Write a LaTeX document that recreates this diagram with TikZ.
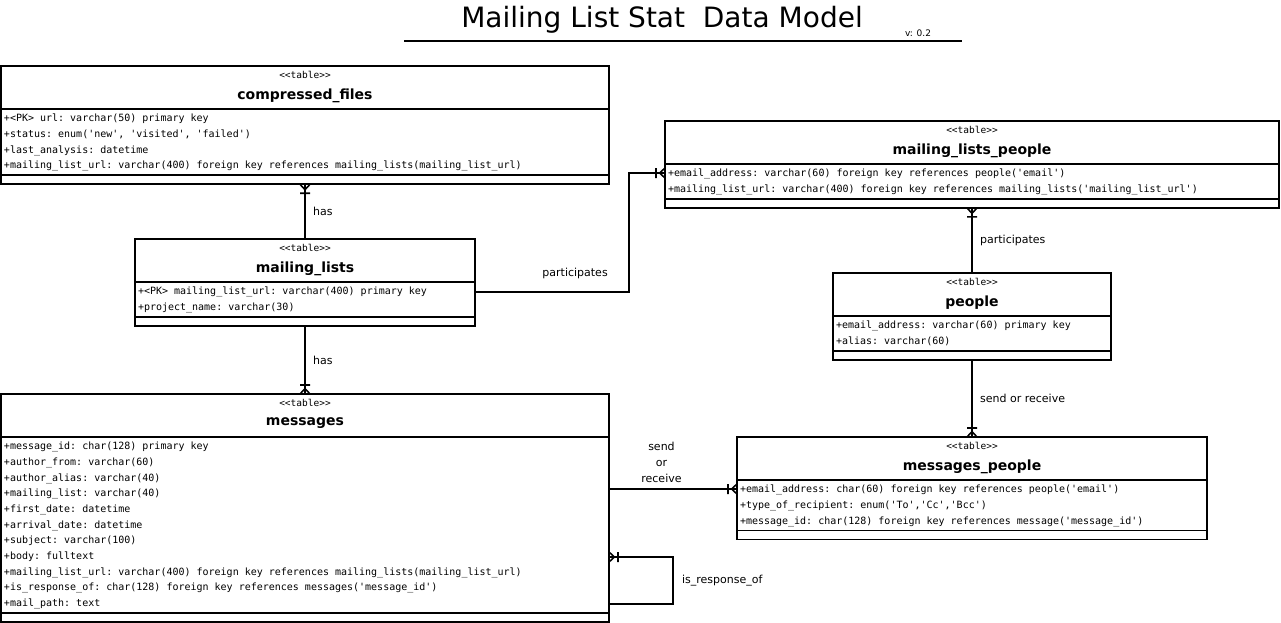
\documentclass[tikz,border=0pt]{standalone}
\usepackage{fontspec}
\setmainfont{DejaVu Sans}
\setmonofont{DejaVu Sans Mono}
\usetikzlibrary{positioning}
\usetikzlibrary{fit}
\usetikzlibrary{arrows.meta}

% crow's foot with bar (one or many)
\pgfdeclarearrow{
  name = crowfoot,
  parameters = {\the\pgfarrowlength,\the\pgfarrowwidth,\the\pgflinewidth},
  setup code = {
    \pgfarrowssettipend{0pt}
    \pgfarrowssetlineend{0pt}
    \pgfarrowssetbackend{-\pgfarrowlength}
    \pgfarrowssetvisualbackend{-\pgfarrowlength}
    \pgfarrowshullpoint{0pt}{0.5\pgfarrowwidth}
    \pgfarrowshullpoint{0pt}{-0.5\pgfarrowwidth}
    \pgfarrowshullpoint{-\pgfarrowlength}{0.5\pgfarrowwidth}
    \pgfarrowshullpoint{-\pgfarrowlength}{-0.5\pgfarrowwidth}
    \pgfarrowssavethe\pgfarrowlength
    \pgfarrowssavethe\pgfarrowwidth
  },
  drawing code = {
    \pgfsetdash{}{0pt}
    \pgfpathmoveto{\pgfqpoint{0pt}{0.5\pgfarrowwidth}}
    \pgfpathlineto{\pgfqpoint{-0.6\pgfarrowlength}{0pt}}
    \pgfpathlineto{\pgfqpoint{0pt}{-0.5\pgfarrowwidth}}
    \pgfpathmoveto{\pgfqpoint{-\pgfarrowlength}{0.5\pgfarrowwidth}}
    \pgfpathlineto{\pgfqpoint{-\pgfarrowlength}{-0.5\pgfarrowwidth}}
    \pgfusepathqstroke
  },
  defaults = {length = 9pt, width = 10pt}
}

% full-width spaces in the mono attribute lines
\newcommand{\monospaces}{\spaceskip=6.02pt\relax\xspaceskip=6.02pt\relax}

\tikzset{
  tblhead/.style = {draw, line width=1.6pt, outer sep=0pt, inner sep=0pt, minimum height=43pt, anchor=north west},
  tblattr/.style = {draw, line width=1.6pt, outer sep=0pt, inner xsep=3pt, inner ysep=1.8pt, align=left,
                    font=\ttfamily\fontsize{10}{15.67}\selectfont,
                    execute at begin node={\monospaces\strut}, execute at end node=\strut},
  tblfoot/.style = {draw, line width=1.6pt, outer sep=0pt, inner sep=0pt, minimum height=9pt},
  stereo/.style = {font=\ttfamily\fontsize{9.5}{11}\selectfont, inner sep=0pt},
  tblname/.style = {font=\bfseries\fontsize{14}{16}\selectfont, inner sep=0pt},
  lbl/.style = {font=\fontsize{11}{16}\selectfont},
  rel/.style = {line width=1.6pt, arrows={-crowfoot}}
}

% #1 name, #2 top left, #3 width, #4 title, #5 attributes
\newcommand{\dbtable}[5]{%
  \node[tblhead, minimum width=#3pt] (#1-head) at (#2) {};
  \node[stereo] (#1-st) at ([yshift=-9pt]#1-head.north) {<<table>>};
  \node[tblname] (#1-name) at ([yshift=-29.5pt]#1-head.north) {#4};
  \node[tblattr, text width=#3pt-6pt, below=0pt of #1-head] (#1-attr) {#5};
  \node[tblfoot, minimum width=#3pt, below=0pt of #1-attr] (#1-foot) {};
  \node[fit=(#1-head)(#1-foot), inner sep=0pt, outer sep=0pt] (#1) {};
}

\begin{document}
\begin{tikzpicture}[x=1pt, y=-1pt]
  \useasboundingbox (0,0) rectangle (1281,623);

  \node[anchor=base] (title) at (662,28) {\fontsize{28}{30}\selectfont Mailing List Stat\ \ Data Model};
  \node[anchor=base] (version) at (918,37) {\fontsize{9}{10}\selectfont v: 0.2};
  \draw[line width=1.6pt] (404,41) -- (962,41);

  \dbtable{cfiles}{1,66}{608}{compressed\_files}{%
    +<PK> url: varchar(50) primary key\\
    +status: enum('new', 'visited', 'failed')\\
    +last\_analysis: datetime\\
    +mailing\_list\_url: varchar(400) foreign key references mailing\_lists(mailing\_list\_url)}
  \dbtable{mlists}{135,239}{340}{mailing\_lists}{%
    +<PK> mailing\_list\_url: varchar(400) primary key\\
    +project\_name: varchar(30)}
  \dbtable{mlpeople}{665,121}{614}{mailing\_lists\_people}{%
    +email\_address: varchar(60) foreign key references people('email')\\
    +mailing\_list\_url: varchar(400) foreign key references mailing\_lists('mailing\_list\_url')}
  \dbtable{people}{833,273}{278}{people}{%
    +email\_address: varchar(60) primary key\\
    +alias: varchar(60)}
  \dbtable{msgs}{1,394}{608}{messages}{%
    +message\_id: char(128) primary key\\
    +author\_from: varchar(60)\\
    +author\_alias: varchar(40)\\
    +mailing\_list: varchar(40)\\
    +first\_date: datetime\\
    +arrival\_date: datetime\\
    +subject: varchar(100)\\
    +body: fulltext\\
    +mailing\_list\_url: varchar(400) foreign key references mailing\_lists(mailing\_list\_url)\\
    +is\_response\_of: char(128) foreign key references messages('message\_id')\\
    +mail\_path: text}
  \dbtable{msgpeople}{737,437}{470}{messages\_people}{%
    +email\_address: char(60) foreign key references people('email')\\
    +type\_of\_recipient: enum('To','Cc','Bcc')\\
    +message\_id: char(128) foreign key references message('message\_id')}

  \coordinate (mp-in) at ([yshift=-9pt]msgpeople-attr.north west);

  \draw[rel] (mlists.north) -- node[lbl, right=4pt] (lbl-has1) {has} (cfiles.south);
  \draw[rel] (mlists.south) -- node[lbl, right=4pt] (lbl-has2) {has} (msgs.north);
  \draw[rel] ([yshift=-10pt]mlists-attr.north east) -- node[lbl, pos=0.65, above=9pt] (lbl-part1) {participates}
    ++(154,0) |- ([yshift=-9pt]mlpeople-attr.north west);
  \draw[rel] (people.north) -- node[lbl, right=4pt] (lbl-part2) {participates} (mlpeople.south);
  \draw[rel] (people.south) -- node[lbl, right=4pt] (lbl-send1) {send or receive} (msgpeople.north);
  \draw[rel] (msgs.east |- mp-in) -- node[lbl, pos=0.41, above=2pt, align=center] (lbl-send2) {send\\or\\receive} (mp-in);
  \draw[rel] ([yshift=-167pt]msgs-attr.north east) -- ++(64,0)
    |- node[lbl, pos=0.25, right=5pt] (lbl-resp) {is\_response\_of} ([yshift=-120pt]msgs-attr.north east);
\end{tikzpicture}
\end{document}
